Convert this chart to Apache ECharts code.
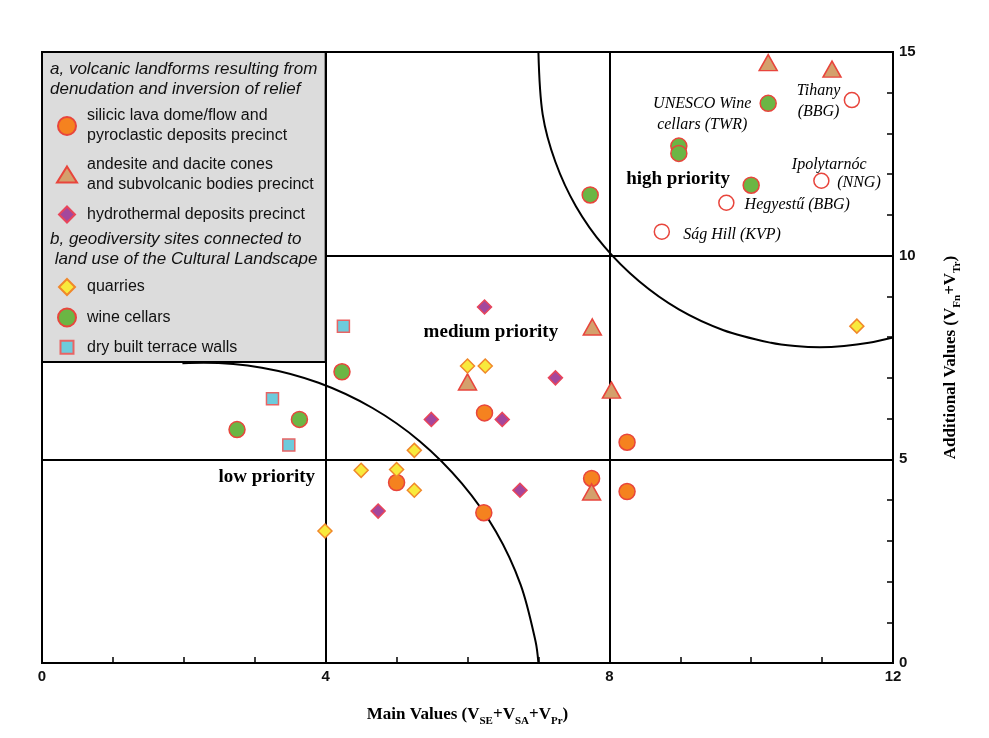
<!DOCTYPE html>
<html><head><meta charset="utf-8">
<script src="https://cdn.jsdelivr.net/npm/echarts@6/dist/echarts.min.js"></script>
<style>html,body{margin:0;padding:0;background:#fff}#c{width:989px;height:738px}</style>
</head><body><div id="c"></div>
<script>
// ---- data ----
const silicicX = [6.24, 5.0, 6.23, 7.75, 8.25, 8.25];
const silicicY = [6.14, 4.43, 3.69, 4.53, 5.42, 4.21];
const andesiteX = [6.0, 7.76, 8.03, 7.75, 10.24, 11.14];
const andesiteY = [6.90, 8.25, 6.70, 4.20, 14.74, 14.58];
const hydroX = [6.24, 7.24, 5.49, 6.49, 6.74, 4.74];
const hydroY = [8.74, 7.0, 5.98, 5.98, 4.24, 3.73];
const quarryX = [6.0, 6.25, 5.25, 4.5, 5.0, 5.25, 3.99, 11.49];
const quarryY = [7.29, 7.29, 5.22, 4.73, 4.75, 4.24, 3.24, 8.27];
const wineX = [4.23, 3.63, 2.75, 7.73, 8.98, 8.98, 10.0, 10.24];
const wineY = [7.15, 5.98, 5.73, 11.49, 12.69, 12.51, 11.73, 13.74];
const terraceX = [4.25, 3.25, 3.48];
const terraceY = [8.27, 6.49, 5.35];
const siteX = [11.42, 10.99, 9.65, 8.74];
const siteY = [13.82, 11.84, 11.30, 10.59];

// priority boundary arcs
const lowArcX = [1.98, 2.28, 3.10, 3.90, 4.66, 5.33, 5.92, 6.40, 6.75, 6.96, 7.0];
const lowArcY = [7.36, 7.37, 7.25, 6.88, 6.26, 5.44, 4.41, 3.23, 1.92, 0.53, 0.0];
const highArcX = [7.00, 7.06, 7.24, 7.53, 7.93, 8.42, 8.98, 9.61, 10.28, 10.62, 10.97, 11.31, 11.66, 12.0];
const highArcY = [15.0, 13.47, 12.30, 11.21, 10.22, 9.37, 8.68, 8.17, 7.86, 7.78, 7.75, 7.78, 7.86, 7.99];

// zone labels
const zoneNames = ['high priority', 'medium priority', 'low priority'];
const zoneX = [8.97, 6.33, 3.17];
const zoneY = [11.86, 8.10, 4.56];
// site labels
const siteLabels = ['UNESCO Wine\ncellars (TWR)', 'Tihany\n(BBG)', 'Ipolytarnóc', '(NNG)', 'Hegyestű (BBG)', 'Ság Hill (KVP)'];
const siteLabelX = [9.31, 10.95, 11.10, 11.52, 10.65, 9.73];
const siteLabelY = [13.45, 13.77, 12.22, 11.78, 11.24, 10.50];

// legend box extent and dividing lines (data units)
const legendBoxX = [0, 4];
const legendBoxY = [7.39, 15];
const vLines = [4, 8];
const hLines = [5];
const hLinePartial = [[4, 10], [12, 10]];

const xTicks = [0, 4, 8, 12];
const yTicks = [0, 5, 10, 15];

const names = {
  sil: 'silicic lava dome/flow and pyroclastic deposits precinct',
  and: 'andesite and dacite cones and subvolcanic bodies precinct',
  hyd: 'hydrothermal deposits precinct',
  qua: 'quarries',
  win: 'wine cellars',
  ter: 'dry built terrace walls'
};
const legendText = {};
legendText[names.sil] = 'silicic lava dome/flow and\npyroclastic deposits precinct';
legendText[names.and] = 'andesite and dacite cones\nand subvolcanic bodies precinct';
legendText[names.hyd] = names.hyd;
legendText[names.qua] = names.qua;
legendText[names.win] = names.win;
legendText[names.ter] = names.ter;

const zip = (a, b) => a.map((v, i) => [v, b[i]]);
const RED = '#E8453C';
const SANS = '"Liberation Sans", Arial, sans-serif';
const SERIF = '"Liberation Serif", "Times New Roman", serif';

function pts(name, xs, ys, symbol, size, fill, border) {
  return {
    name, type: 'scatter', data: zip(xs, ys), symbol, symbolSize: size,
    itemStyle: { color: fill, borderColor: border, borderWidth: 1.5, opacity: 1 },
    emphasis: { disabled: true }, silent: true, z: 5
  };
}

// icon centre at x=66, text start at x≈86
function legendFor(name, top, w, h) {
  const left = 66 - w / 2;
  const pad = Math.max(0, 86 - (left + w + 5));
  return {
    data: [name], left, top, orient: 'vertical', padding: 0,
    itemWidth: w, itemHeight: h, selectedMode: false, symbolKeepAspect: false,
    formatter: n => legendText[n],
    textStyle: { fontFamily: SANS, fontSize: 16, color: '#111', lineHeight: 20, padding: [0, 0, 0, pad] },
    z: 20
  };
}

function textSeries(name, labels, xs, ys, labelStyle) {
  return {
    name, type: 'scatter', symbolSize: 1, silent: true, z: 6,
    itemStyle: { color: 'rgba(255,255,255,0)', opacity: 1 },
    emphasis: { disabled: true },
    data: labels.map((n, i) => ({ name: n, value: [xs[i], ys[i]] })),
    label: Object.assign({
      show: true, position: 'top', distance: 0, align: 'center', verticalAlign: 'middle',
      formatter: p => p.name, color: '#000', opacity: 1, textBorderWidth: 0
    }, labelStyle)
  };
}

const chart = echarts.init(document.getElementById('c'), null, { renderer: 'canvas' });

const axisNameRich = {
  m: { fontFamily: SERIF, fontWeight: 'bold', fontSize: 17, color: '#000', lineHeight: 24, verticalAlign: 'middle' },
  s: { fontFamily: SERIF, fontWeight: 'bold', fontSize: 11, color: '#000', lineHeight: 11, verticalAlign: 'bottom' }
};

const option = {
  animation: false,
  backgroundColor: '#fff',
  grid: { left: 42, right: 96, top: 52, bottom: 75, show: true, borderColor: '#000', borderWidth: 2, backgroundColor: 'transparent' },
  xAxis: {
    type: 'value', min: 0, max: 12, interval: 1,
    axisLine: { show: true, onZero: false, lineStyle: { color: '#000', width: 2 } },
    axisTick: { show: true, inside: true, length: 6, lineStyle: { color: '#000', width: 1.5 } },
    splitLine: { show: false },
    axisLabel: { formatter: v => (xTicks.indexOf(v) >= 0 ? String(v) : ''), fontFamily: SANS, fontWeight: 'bold', fontSize: 15, color: '#111', margin: 6 },
    name: '{m|Main Values (V}{s|SE}{m|+V}{s|SA}{m|+V}{s|Pr}{m|)}',
    nameLocation: 'middle', nameGap: 40,
    nameTextStyle: { rich: axisNameRich }
  },
  yAxis: {
    type: 'value', min: 0, max: 15, interval: 1, position: 'right',
    axisLine: { show: true, onZero: false, lineStyle: { color: '#000', width: 2 } },
    axisTick: { show: true, inside: true, length: 6, lineStyle: { color: '#000', width: 1.5 } },
    splitLine: { show: false },
    axisLabel: { formatter: v => (yTicks.indexOf(v) >= 0 ? String(v) : ''), fontFamily: SANS, fontWeight: 'bold', fontSize: 15, color: '#111', margin: 6 },
    name: '{m|Additional Values (V}{s|Fn}{m|+V}{s|Tr}{m|)}',
    nameLocation: 'middle', nameGap: 46,
    nameTextStyle: { rich: axisNameRich }
  },
  legend: [
    legendFor(names.sil, 106, 18, 18),
    legendFor(names.and, 154.5, 20, 16),
    legendFor(names.hyd, 204.5, 16, 16),
    legendFor(names.qua, 277, 16, 16),
    legendFor(names.win, 307.5, 18, 18),
    legendFor(names.ter, 337.3, 13, 13)
  ],
  graphic: [
    { type: 'text', left: 50, top: 58.5, z: 100,
      style: { text: 'a, volcanic landforms resulting from\ndenudation and inversion of relief', font: 'italic 17px ' + SANS, lineHeight: 20.7, fill: '#111' } },
    { type: 'text', left: 50, top: 228.5, z: 100,
      style: { text: 'b, geodiversity sites connected to\n land use of the Cultural Landscape', font: 'italic 17px ' + SANS, lineHeight: 20.7, fill: '#111' } }
  ],
  series: [
    {
      name: 'low boundary', type: 'line', data: zip(lowArcX, lowArcY), smooth: 0.33,
      showSymbol: false, symbol: 'none', silent: true, z: 3,
      lineStyle: { color: '#000', width: 2 },
      markArea: {
        silent: true,
        itemStyle: { color: '#DCDCDC', borderColor: '#000', borderWidth: 2 },
        data: [[{ coord: [legendBoxX[0], legendBoxY[0]] }, { coord: [legendBoxX[1], legendBoxY[1]] }]]
      },
      markLine: {
        silent: true, symbol: 'none', label: { show: false },
        lineStyle: { color: '#000', width: 2, type: 'solid' },
        data: [
          ...vLines.map(v => ({ xAxis: v })),
          ...hLines.map(v => ({ yAxis: v })),
          [{ coord: hLinePartial[0] }, { coord: hLinePartial[1] }]
        ]
      }
    },
    {
      name: 'high boundary', type: 'line', data: zip(highArcX, highArcY), smooth: 0.33,
      showSymbol: false, symbol: 'none', silent: true, z: 3,
      lineStyle: { color: '#000', width: 2 }
    },
    pts(names.sil, silicicX, silicicY, 'circle', 16, '#F5821F', RED),
    pts(names.and, andesiteX, andesiteY, 'triangle', [18, 16], '#D4A06C', RED),
    pts(names.hyd, hydroX, hydroY, 'diamond', 14, '#A4479C', '#E8455A'),
    pts(names.qua, quarryX, quarryY, 'diamond', 14, '#F8EA3C', '#F0882A'),
    pts(names.win, wineX, wineY, 'circle', 16, '#6BB644', RED),
    pts(names.ter, terraceX, terraceY, 'rect', 12, '#6DCBDC', '#E86464'),
    pts('geosites', siteX, siteY, 'circle', 15, '#FFFFFF', RED),
    textSeries('zone labels', zoneNames, zoneX, zoneY, { fontFamily: SERIF, fontWeight: 'bold', fontSize: 19 }),
    textSeries('site labels', siteLabels, siteLabelX, siteLabelY, { fontFamily: SERIF, fontStyle: 'italic', fontSize: 16, lineHeight: 21 })
  ]
};
chart.setOption(option);
</script>
</body></html>
